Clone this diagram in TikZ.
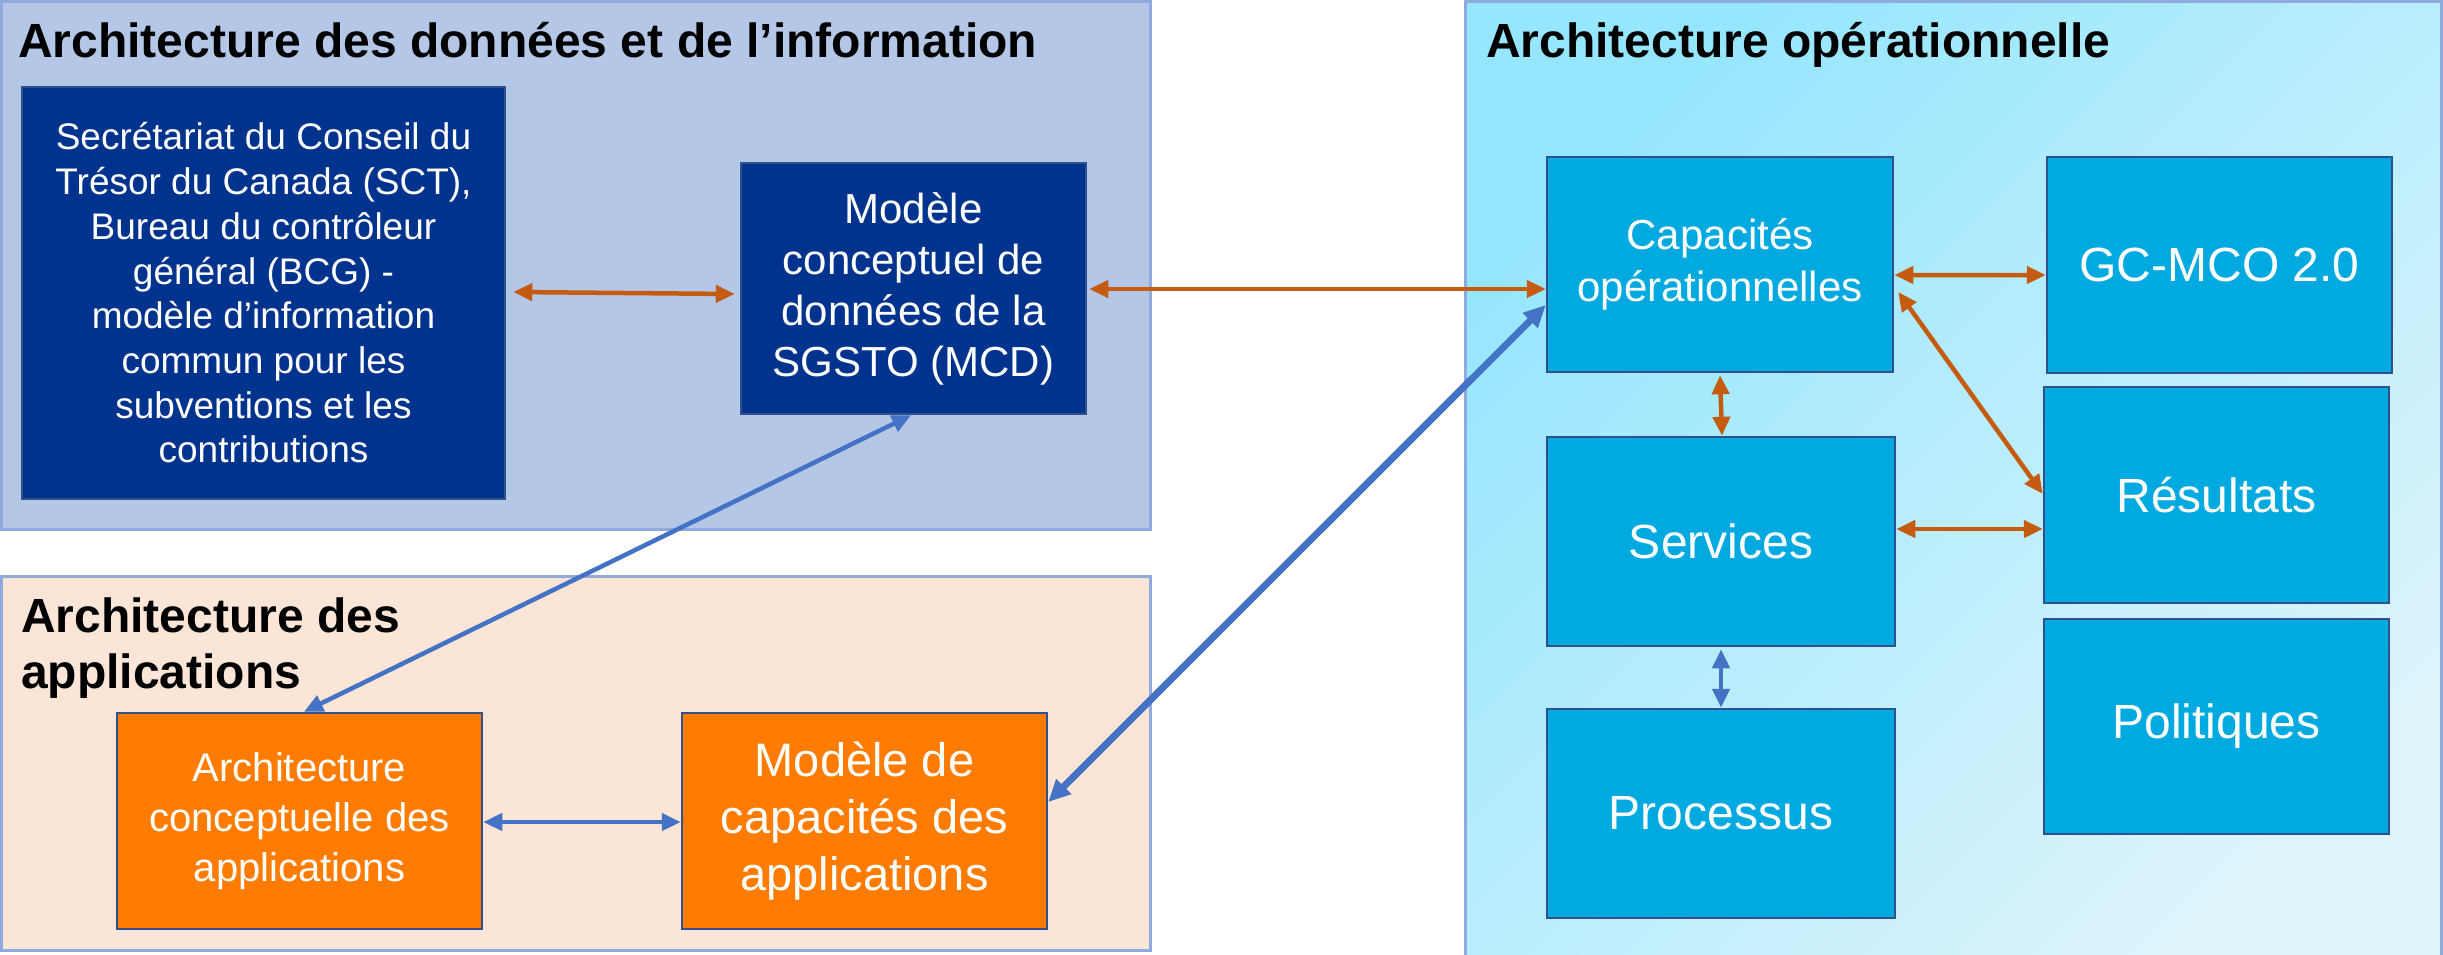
\documentclass[tikz,border=0pt]{standalone}
\usepackage{fontspec}
\setmainfont{Liberation Sans}
\usetikzlibrary{arrows.meta,calc}
\definecolor{panelA}{HTML}{B4C7E7}
\definecolor{panelB}{HTML}{FBE5D6}
\definecolor{panelCa}{HTML}{95E6FE}
\definecolor{panelCb}{HTML}{DDF4FB}
\definecolor{panelline}{HTML}{8FAADC}
\definecolor{boxline}{HTML}{2F528F}
\definecolor{darkblue}{HTML}{00338D}
\definecolor{orangebox}{HTML}{FF7C00}
\definecolor{cyanbox}{HTML}{00A9DF}
\definecolor{orangeline}{HTML}{C55A11}
\definecolor{blueline}{HTML}{4472C4}
\begin{document}
\begin{tikzpicture}[x=1bp,y=-1bp,
  panel/.style={draw=panelline,line width=3bp},
  box/.style={draw=boxline,line width=2.5bp,inner sep=0pt,align=center,text=white},
  title/.style={inner sep=0pt,font=\bfseries\fontsize{48bp}{56bp}\selectfont,text=black},
  big/.style={font=\fontsize{48bp}{57bp}\selectfont},
  olink/.style={draw=orangeline,line width=4.5bp,{Triangle[length=19bp,width=17bp]}-{Triangle[length=19bp,width=17bp]}},
  blink/.style={draw=blueline,line width=4.5bp,{Triangle[length=19bp,width=17bp]}-{Triangle[length=19bp,width=17bp]}},
  bthick/.style={draw=blueline,line width=7bp,{Triangle[length=22bp,width=20bp]}-{Triangle[length=22bp,width=20bp]}}]
\useasboundingbox (0,0) rectangle (2443,954);
\fill[white] (0,0) rectangle (2443,954);
% panels
\draw[panel,fill=panelA] (1.5,1.5) rectangle (1150,529);
\draw[panel,fill=panelB] (1.5,576) rectangle (1150,950);
\shade[left color=panelCa,right color=panelCb,shading angle=45] (1465,1.5) rectangle (2441,954);
\draw[panel] (1465,1.5) rectangle (2441,960);
% titles
\node[title,anchor=base west] (t1) at (18,57) {Architecture des données et de l’information};
\node[title,anchor=base west,align=left] (t2) at (21,688) {Architecture des\\applications};
\node[title,anchor=base west] (t3) at (1486,57) {Architecture opérationnelle};
% boxes
\node[box,fill=darkblue,minimum width=483bp,minimum height=412bp,font=\fontsize{37bp}{44.7bp}\selectfont] (sct) at (263.5,293)
  {Secrétariat du Conseil du\\Trésor du Canada (SCT),\\Bureau du contrôleur\\général (BCG) -\\modèle d’information\\commun pour les\\subventions et les\\contributions};
\node[box,fill=darkblue,minimum width=345bp,minimum height=251bp,font=\fontsize{42bp}{51bp}\selectfont] (mcd) at (913.5,288.5)
  {Modèle\\conceptuel de\\données de la\\SGSTO (MCD)};
\node[box,fill=orangebox,minimum width=365bp,minimum height=216bp,font=\fontsize{40bp}{50bp}\selectfont] (ac) at (299.5,821)
  {Architecture\\conceptuelle des\\applications};
\node[box,fill=orangebox,minimum width=365bp,minimum height=216bp,font=\fontsize{47bp}{57bp}\selectfont] (mca) at (864.5,821)
  {Modèle de\\capacités des\\applications};
\node[box,fill=cyanbox,minimum width=346bp,minimum height=215bp,font=\fontsize{42bp}{52bp}\selectfont] (cap) at (1720,264.5)
  {Capacités\\opérationnelles};
\node[box,big,fill=cyanbox,minimum width=345bp,minimum height=216bp] (gc) at (2219.5,265) {GC-MCO 2.0};
\node[box,big,fill=cyanbox,minimum width=348bp,minimum height=209bp] (srv) at (1721,541.5) {Services};
\node[box,big,fill=cyanbox,minimum width=345bp,minimum height=216bp] (res) at (2216.5,495) {Résultats};
\node[box,big,fill=cyanbox,minimum width=345bp,minimum height=215bp] (pol) at (2216.5,726.5) {Politiques};
\node[box,big,fill=cyanbox,minimum width=348bp,minimum height=209bp] (pro) at (1721,813.5) {Processus};
% connectors
\draw[olink] ($(sct.east)+(7,-1)$) -- ($(mcd.west)+(-5,5.5)$);
\draw[olink] ($(mcd.east)+(2,0.5)$) -- ($(cap.west)+(0,24.5)$);
\draw[olink] ($(cap.east)+(0,10.5)$) -- ($(gc.west)+(0,10)$);
\draw[olink] ($(cap.east)+(4,27.5)$) -- ($(res.west)+(0,-1)$);
\draw[olink] ($(cap.south)+(0,2)$) -- ($(srv.north)+(1,0)$);
\draw[olink] ($(srv.east)+(0,-12.5)$) -- ($(res.west)+(0,34)$);
\draw[blink] ($(srv.south)+(0,2)$) -- (pro.north);
\draw[blink] ($(mcd.south)+(-2.5,0)$) -- ($(ac.north)+(4.5,0)$);
\draw[bthick] ($(cap.west)+(0,40.5)$) -- ($(mca.east)+(0,-19)$);
\draw[blink] ($(ac.east)+(0,1)$) -- ($(mca.west)+(0,1)$);
\end{tikzpicture}
\end{document}
